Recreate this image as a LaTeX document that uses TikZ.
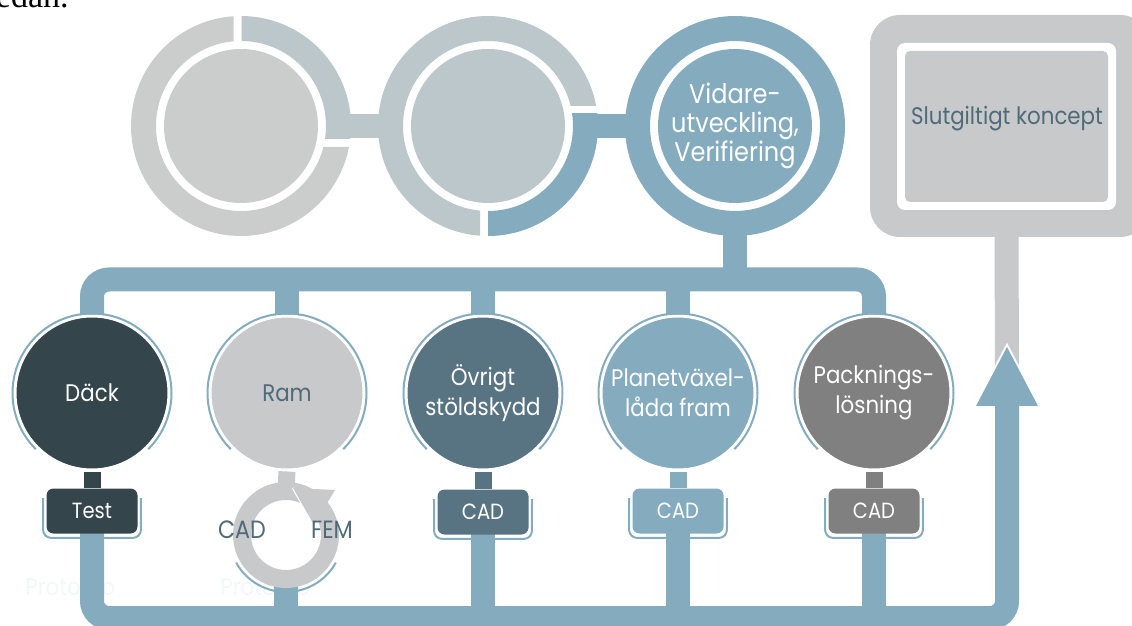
\documentclass[tikz,border=0pt]{standalone}
\usepackage{fontspec}
\setmainfont{Poppins}[FakeStretch=0.89]
\newfontfamily\docfont{Liberation Serif}
\usetikzlibrary{backgrounds}

\definecolor{ringgray}{HTML}{CBCDCC}
\definecolor{ringmid}{HTML}{BBC7CB}
\definecolor{flowblue}{HTML}{84ACBE}
\definecolor{dackdark}{HTML}{34454C}
\definecolor{framgray}{HTML}{C8C9CB}
\definecolor{ovrigtblue}{HTML}{587483}
\definecolor{packgray}{HTML}{7F807F}
\definecolor{slate}{HTML}{4F6A78}
\definecolor{faint}{HTML}{F3F7F9}

\tikzset{
  flow/.style={draw=flowblue, line width=12pt},
  part/.style={circle, minimum size=77pt, inner sep=0pt, draw=white, line width=1.5pt},
  partlabel/.style={align=center, font=\fontsize{12}{15}\selectfont},
  tag/.style={rounded corners=3.5pt, minimum width=45.5pt, minimum height=22.5pt, inner sep=0pt,
    font=\fontsize{11}{12}\selectfont},
  rim/.style={draw=flowblue, line width=1pt},
  neck/.style={line width=8.5pt},
}

\begin{document}
\begin{tikzpicture}[x=0.5pt, y=-0.5pt]
\useasboundingbox (0,0) rectangle (1132,626);
\clip (0,0) rectangle (1132,626);

%text line above
\node[anchor=base east, inner sep=0pt, font=\docfont\fontsize{17}{20}\selectfont] (nedan) at (69,8) {edan.};

%ring 1
\begin{scope}
\clip (120,0) rectangle (233.5,250) (233.5,147) rectangle (360,250);
\fill[ringgray, even odd rule] (241,126) circle[radius=110] circle[radius=85];
\end{scope}
\begin{scope}
\clip (241.5,0) rectangle (360,138.5);
\fill[ringmid, even odd rule] (241,126) circle[radius=110] circle[radius=85];
\end{scope}
\fill[ringmid] (328,114) rectangle (402,138.5);
\node[circle, fill=ringgray, minimum size=77pt, inner sep=0pt] (first) at (241,126) {};

%ring 2
\begin{scope}
\clip (370,0) rectangle (480,250) (480,0) rectangle (610,106);
\fill[ringmid, even odd rule] (488,126) circle[radius=110] circle[radius=85];
\end{scope}
\begin{scope}
\clip (488,114) rectangle (610,250);
\fill[flowblue, even odd rule] (488,126) circle[radius=110] circle[radius=85];
\end{scope}
\fill[flowblue] (575,114) rectangle (649,138.5);
\node[circle, fill=ringmid, minimum size=77pt, inner sep=0pt] (second) at (488,126) {};

%ring 3
\fill[flowblue, even odd rule] (735,126) circle[radius=110] circle[radius=85];
\node[circle, fill=flowblue, minimum size=77pt, inner sep=0pt, text=white,
  label={[align=center, font=\fontsize{13.5}{14.5}\selectfont, text=white]center:Vidare-\\utveckling,\\Verifiering}]
  (vidare) at (735,126) {};

%final concept
\fill[framgray, rounded corners=15pt] (870,15) rectangle (1150,237);
\fill[white, rounded corners=4pt] (897,43) rectangle (1116,210);
\node[fill=framgray, rounded corners=2.5pt, minimum width=101.5pt, minimum height=75.5pt,
  inner sep=0pt] (slut) at (1006.5,126.5) {};
\node[text=slate, font=\fontsize{12}{14}\selectfont] (slutlabel) at (1007,119) {Slutgiltigt koncept};

%Däck
\node[part, fill=dackdark, label={[partlabel, text=white]center:Däck}] (dack) at (92,393) {};
\draw[rim] (dack.center) ++(45:79.5) arc[start angle=45, end angle=-225, radius=79.5];
\node[tag, fill=dackdark, text=white] (dacktag) at (92,511) {Test};
\draw[neck, dackdark] (dack.south) -- (dacktag.north);
\draw[rim, rounded corners=4pt] ([xshift=-1.5pt,yshift=-5pt]dacktag.north west)
  -- ([xshift=-1.5pt,yshift=-2pt]dacktag.south west) -- ([xshift=1.5pt,yshift=-2pt]dacktag.south east)
  -- ([xshift=1.5pt,yshift=-5pt]dacktag.north east);

%Ram
\node[part, fill=framgray, label={[partlabel, text=slate]center:Ram}] (ram) at (287,393) {};
\draw[rim] (ram.center) ++(45:79.5) arc[start angle=45, end angle=-225, radius=79.5];
\coordinate (ramcycle) at (286,535);
\draw[neck, framgray] (ram.south) -- (286,490);
\fill[framgray, even odd rule] (ramcycle) circle[radius=53] circle[radius=35];
\draw[white, line width=1.2pt] (293,488) -- (314,525);
\fill[framgray] (293,488) -- (335,490) -- (314,525) -- cycle;
\draw[rim] (ramcycle) ++(29:57) arc[start angle=29, end angle=151, radius=57];
\node[text=slate, font=\fontsize{12.5}{14}\selectfont] (cad) at (242,530) {CAD};
\node[text=slate, font=\fontsize{12.5}{14}\selectfont] (fem) at (332,530) {FEM};

%Övrigt
\node[part, fill=ovrigtblue, label={[partlabel, text=white]center:Övrigt\\stöldskydd}] (ovrigt) at (483,393) {};
\draw[rim] (ovrigt.center) ++(45:79.5) arc[start angle=45, end angle=-225, radius=79.5];
\node[tag, fill=ovrigtblue, text=white] (ovrigttag) at (483,512) {CAD};
\draw[neck, ovrigtblue] (ovrigt.south) -- (ovrigttag.north);
\draw[rim, rounded corners=4pt] ([xshift=-1.5pt,yshift=-5pt]ovrigttag.north west)
  -- ([xshift=-1.5pt,yshift=-2pt]ovrigttag.south west) -- ([xshift=1.5pt,yshift=-2pt]ovrigttag.south east)
  -- ([xshift=1.5pt,yshift=-5pt]ovrigttag.north east);

%Planetväxellåda
\node[part, fill=flowblue, label={[partlabel, text=white]center:Planetväxel-\\låda fram}] (planet) at (678,393) {};
\draw[rim] (planet.center) ++(45:79.5) arc[start angle=45, end angle=-225, radius=79.5];
\node[tag, fill=flowblue, text=white] (planettag) at (678,511) {CAD};
\draw[neck, flowblue] (planet.south) -- (planettag.north);
\draw[rim, rounded corners=4pt] ([xshift=-1.5pt,yshift=-5pt]planettag.north west)
  -- ([xshift=-1.5pt,yshift=-2pt]planettag.south west) -- ([xshift=1.5pt,yshift=-2pt]planettag.south east)
  -- ([xshift=1.5pt,yshift=-5pt]planettag.north east);

%Packningslösning
\node[part, fill=packgray, label={[partlabel, text=white]center:Packnings-\\lösning}] (pack) at (874,393) {};
\draw[rim] (pack.center) ++(45:79.5) arc[start angle=45, end angle=-225, radius=79.5];
\node[tag, fill=packgray, text=white] (packtag) at (874,511) {CAD};
\draw[neck, packgray] (pack.south) -- (packtag.north);
\draw[rim, rounded corners=4pt] ([xshift=-1.5pt,yshift=-5pt]packtag.north west)
  -- ([xshift=-1.5pt,yshift=-2pt]packtag.south west) -- ([xshift=1.5pt,yshift=-2pt]packtag.south east)
  -- ([xshift=1.5pt,yshift=-5pt]packtag.north east);

%loop behind the parts
\begin{scope}[on background layer]
\node[anchor=base west, inner sep=0pt, text=faint, font=\fontsize{12}{14}\selectfont] (proto1) at (25,595) {Prototyp};
\node[anchor=base west, inner sep=0pt, text=faint, font=\fontsize{12}{14}\selectfont] (proto2) at (220,595) {Prototyp};

\coordinate (topleft) at (92,279.5);
\coordinate (topright) at (874,279.5);
\coordinate (botleft) at (92,618);
\coordinate (botright) at (1007,618);

\draw[flow, rounded corners=8.5pt] (dack.center) -- (topleft) -- (topright) -- (pack.center);
\draw[flow] (ram.center) -- (ram.center |- topleft);
\draw[flow] (ovrigt.center) -- (ovrigt.center |- topleft);
\draw[flow] (planet.center) -- (planet.center |- topleft);
\draw[flow] ([yshift=-13.5pt]vidare.south) -- (vidare.south |- topleft);

\draw[flow, rounded corners=8.5pt] (dacktag.center) -- (botleft) -- (botright) -- (1007,400);
\draw[flow] ([yshift=-21pt]ramcycle) -- (ramcycle |- botleft);
\draw[flow] (ovrigttag.center) -- (ovrigttag.center |- botleft);
\draw[flow] (planettag.center) -- (planettag.center |- botleft);
\draw[flow] (packtag.center) -- (packtag.center |- botleft);

%arrow up to the final concept
\draw[line width=12pt, framgray] (slut.south |- 0,230) -- (1007,370);
\draw[white, line width=2pt] (976,406) -- (1007,347) -- (1038,406);
\fill[flowblue] (976,406) -- (1007,347) -- (1038,406) -- cycle;
\end{scope}
\end{tikzpicture}
\end{document}
